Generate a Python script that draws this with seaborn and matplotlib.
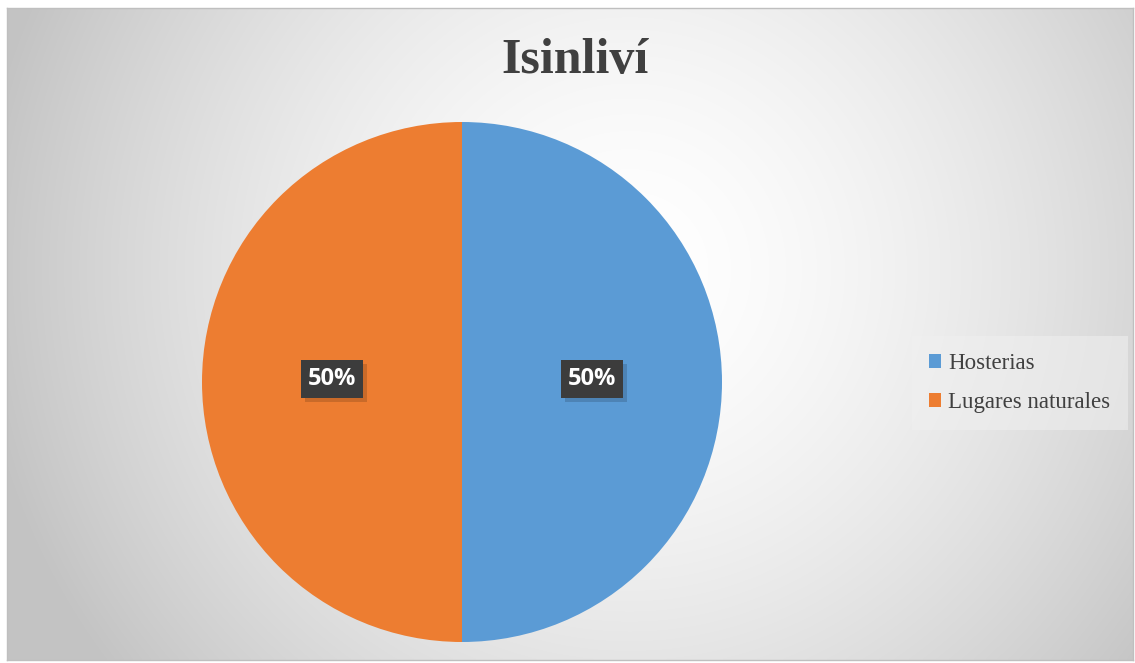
import numpy as np
import matplotlib
matplotlib.use("Agg")
import matplotlib.pyplot as plt
import seaborn as sns
import matplotlib.patheffects as pe

categories = ["Hosterias", "Lugares naturales"]
values = [50, 50]
labels = ["50%", "50%"]
colors = ["#5B9BD5", "#ED7D31"]
title = "Isinliví"

sns.set_theme(style="white")
plt.rcParams['font.family'] = ['Liberation Serif', 'DejaVu Serif']

W, H = 1135, 663
fig = plt.figure(figsize=(W / 100, H / 100), dpi=100)
fig.patch.set_facecolor("white")

# background radial gradient (pixel coordinates)
x0, y0, x1, y1 = 7, 8, 1133, 660
bg = fig.add_axes([x0 / W, 1 - y1 / H, (x1 - x0) / W, (y1 - y0) / H])
xs = np.linspace(x0, x1, 400)
ys = np.linspace(y0, y1, 240)
xx, yy = np.meshgrid(xs, ys)
cx, cy = 630, 270
d = np.sqrt((xx - cx) ** 2 + (yy - cy) ** 2) / 660
val = 1.0 - 0.235 * d ** 1.6
val = np.clip(val, 0.765, 1.0)
img = np.dstack([val, val, val])
bg.imshow(img, aspect="auto", interpolation="bilinear", extent=[0, 1, 0, 1], origin="upper")
bg.set_xticks([]); bg.set_yticks([])
for s in bg.spines.values():
    s.set_color("#bfbfbf"); s.set_linewidth(1)

# pie
r = 260
cxp, cyp = 462, 382
ax = fig.add_axes([(cxp - r) / W, (H - cyp - r) / H, 2 * r / W, 2 * r / H])
ax.set_facecolor("none")
wedges, _ = ax.pie(values, colors=colors, startangle=90, counterclock=False,
                   radius=1.0, wedgeprops=dict(linewidth=0))
ax.set_xlim(-1, 1); ax.set_ylim(-1, 1)
ax.set_aspect("auto")
ax.axis("off")

for w, lab in zip(wedges, labels):
    ang = np.deg2rad((w.theta1 + w.theta2) / 2)
    x, y = 0.5 * np.cos(ang), 0.5 * np.sin(ang) + 0.012
    ax.text(x, y, lab, ha="center", va="center", color="white",
            fontsize=17, fontweight="bold", family=["Open Sans", "DejaVu Sans"],
            bbox=dict(boxstyle="square,pad=0.3", facecolor="#3c3c3c",
                      edgecolor="none",
                      path_effects=[pe.withSimplePatchShadow(offset=(3, -3), shadow_rgbFace="#000000", alpha=0.15),
                                    pe.Normal()]))

fig.text(575 / W, 1 - 61 / H, title, ha="center", va="center",
         fontsize=36, fontweight="bold", color="#404040",
         family=["Liberation Serif", "DejaVu Serif"])

leg = fig.legend(wedges, categories, loc="center left",
                 bbox_to_anchor=(907 / W, 1 - 383 / H),
                 frameon=True, fontsize=16.5, handlelength=0.55, handleheight=0.55,
                 handletextpad=0.3, labelspacing=0.8, borderpad=0.45,
                 labelcolor="#404040")
leg.get_frame().set_facecolor("#f0f0f0")
leg.get_frame().set_edgecolor("none")
leg.get_frame().set_alpha(0.55)
leg.get_frame().set_boxstyle("square")

fig.savefig("out.png", dpi=100)
